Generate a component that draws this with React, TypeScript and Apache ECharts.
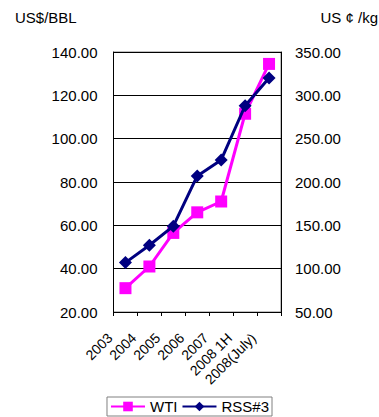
import React, { useEffect, useRef } from "react";
import * as echarts from "echarts";

const categories = ["2003", "2004", "2005", "2006", "2007", "2008 1H", "2008(July)"];
const wtiValues = [31, 41, 56.5, 66, 71, 111.5, 134.5];
const rssValues = [107, 127, 149, 207, 225.5, 288, 320];
const leftAxisTitle = "US$/BBL";
const rightAxisTitle = "US ¢ /kg";

export default function App() {
  const ref = useRef<HTMLDivElement>(null);
  useEffect(() => {
    document.body.style.margin = "0";
    const chart = echarts.init(ref.current!, null, { renderer: "svg" });
    const font = "'Liberation Sans', Arial, sans-serif";
    chart.setOption({
      animation: false,
      backgroundColor: "#ffffff",
      textStyle: { fontFamily: font },
      graphic: [
        { type: "text", left: 15, top: 10, style: { text: leftAxisTitle, font: `15px ${font}`, fill: "#000" } },
        { type: "text", right: 1, top: 10, style: { text: rightAxisTitle, font: `15px ${font}`, fill: "#000" } },
      ],
      grid: { left: 113.5, right: 98, top: 52, bottom: 105, show: true, borderColor: "#808080", borderWidth: 1 },
      legend: {
        bottom: 1,
        left: "center",
        itemWidth: 34,
        itemHeight: 12,
        itemGap: 4,
        padding: [2, 3, 2, 3],
        borderColor: "#808080",
        borderWidth: 1,
        borderRadius: 0,
        textStyle: { fontSize: 15, color: "#000", fontFamily: font },
        data: ["WTI", "RSS#3"],
      },
      xAxis: {
        type: "category",
        data: categories,
        boundaryGap: true,
        axisLine: { lineStyle: { color: "#000" } },
        axisTick: { show: true, length: 4, lineStyle: { color: "#000" } },
        axisLabel: { rotate: 45, fontSize: 14, color: "#000", margin: 8, padding: [0, 22, 0, 0], interval: 0 },
      },
      yAxis: [
        {
          type: "value",
          min: 20,
          max: 140,
          interval: 20,
          axisLine: { show: true, lineStyle: { color: "#000" } },
          axisTick: { show: false },
          splitLine: { lineStyle: { color: "#000", width: 1 } },
          axisLabel: { fontSize: 15, color: "#000", margin: 16, formatter: (v: number) => v.toFixed(2) },
        },
        {
          type: "value",
          min: 50,
          max: 350,
          interval: 50,
          position: "right",
          axisLine: { show: true, lineStyle: { color: "#000" } },
          axisTick: { show: false },
          splitLine: { show: false },
          axisLabel: { fontSize: 15, color: "#000", margin: 14, formatter: (v: number) => v.toFixed(2) },
        },
      ],
      series: [
        {
          name: "WTI",
          type: "line",
          data: wtiValues,
          yAxisIndex: 0,
          symbol: "rect",
          symbolSize: 12,
          itemStyle: { color: "#ff00ff" },
          lineStyle: { color: "#ff00ff", width: 3 },
          z: 2,
        },
        {
          name: "RSS#3",
          type: "line",
          data: rssValues,
          yAxisIndex: 1,
          symbol: "diamond",
          symbolSize: 13,
          itemStyle: { color: "#000080" },
          lineStyle: { color: "#000080", width: 3 },
          z: 3,
        },
      ],
    });
    return () => chart.dispose();
  }, []);
  return <div ref={ref} style={{ width: 379, height: 417, position: "absolute", left: 0, top: 0 }} />;
}
